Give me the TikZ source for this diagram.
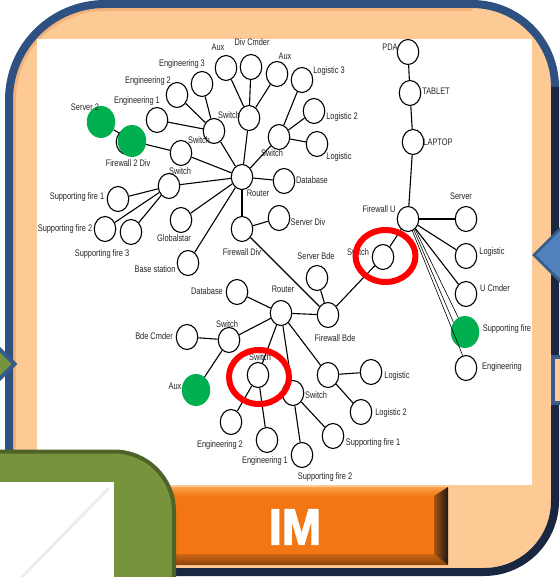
\documentclass[tikz,border=0pt]{standalone}
\usepackage{fontspec}
\newfontfamily\labfont[FakeStretch=0.78]{Liberation Sans}
\newfontfamily\imfont[FakeBold=2.5,FakeStretch=0.92]{Liberation Sans Bold}
\usetikzlibrary{shapes.geometric}

\definecolor{peach}{HTML}{FDCA96}
\definecolor{peachdark}{HTML}{F4B27A}
\definecolor{frameblue}{HTML}{2F5181}
\definecolor{framedark}{HTML}{1A2740}
\definecolor{olive}{HTML}{77933C}
\definecolor{olivedark}{HTML}{4F6228}
\definecolor{arrowblue}{HTML}{4F81BD}
\definecolor{arrowedge}{HTML}{385D8A}
\definecolor{hotgreen}{HTML}{00B050}
\definecolor{imorange}{HTML}{F27714}
\definecolor{imlight}{HTML}{F9A24C}
\definecolor{imbrown}{HTML}{8C430A}

\tikzset{
  dev/.style={ellipse, draw=black, line width=1.1pt, fill=white,
    minimum width=21.5pt, minimum height=25pt, inner sep=0pt},
  hot/.style={ellipse, fill=hotgreen, minimum width=28.5pt,
    minimum height=32pt, inner sep=0pt},
  lbl/.style={font=\labfont\fontsize{9.5}{10}\selectfont, text=black!85,
    inner sep=0pt, text height=7pt, text depth=2pt},
  link/.style={line width=1.1pt},
  fine link/.style={line width=0.6pt},
  redring/.style={draw=red, line width=6pt},
}

\begin{document}
\begin{tikzpicture}[x=1pt,y=-1pt]
\useasboundingbox (0,0) rectangle (559,577);
\fill[white] (0,0) rectangle (559,577);

% ---------- frame ----------
\fill[peach] (9,572) -- (9,100) arc[start angle=180,end angle=270,radius=96]
  -- (472,4) arc[start angle=270,end angle=360,radius=83]
  -- (555,501) arc[start angle=0,end angle=90,radius=71] -- cycle;
\draw[peachdark, line width=3] (14.5,450) -- (14.5,100)
  arc[start angle=180,end angle=270,radius=90.5] -- (472,9.5);
\draw[frameblue, line width=8] (9,577) -- (9,100)
  arc[start angle=180,end angle=270,radius=96] -- (472,4)
  arc[start angle=270,end angle=360,radius=83];
\draw[framedark, line width=8] (555,87) -- (555,501)
  arc[start angle=0,end angle=90,radius=71] -- (150,572);

% ---------- white panel ----------
\fill[white] (37,39) rectangle (532,485);

% ---------- devices ----------
\node[hot] (srv2) at (101,122) {};
\node[dev] (fw2under) at (127,142) {};
\node[hot] (fw2div) at (132,141) {};
\node[dev] (eng1) at (157,120) {};
\node[dev] (eng2) at (177,95) {};
\node[dev] (eng3) at (202,84) {};
\node[dev] (auxT) at (226,68) {};
\node[dev] (divc) at (251,67) {};
\node[dev] (auxR) at (277,74) {};
\node[dev] (swB) at (214,131) {};
\node[dev] (swC) at (249,118) {};
\node[dev] (swA) at (181,153) {};
\node[dev] (rt1) at (242,177) {};
\node[dev] (swD) at (279,137) {};
\node[dev] (log3) at (302,80) {};
\node[dev] (log2) at (314,111) {};
\node[dev] (log1) at (317,144) {};
\node[dev] (db1) at (284,181) {};
\node[dev] (swE) at (169,186) {};
\node[dev] (sf1) at (118,199) {};
\node[dev] (sf2) at (105,229) {};
\node[dev] (sf3) at (131,232) {};
\node[dev] (glob) at (181,220) {};
\node[dev] (base) at (188,263) {};
\node[dev] (fwdiv) at (242,229) {};
\node[dev] (srvdiv) at (279,218) {};
\node[dev] (fwbde) at (328,315) {};
\node[dev] (srvbde) at (317,278) {};
\node[dev] (rt2) at (281,313) {};
\node[dev] (swU) at (383,257) {};
\node[dev] (fwu) at (408,219) {};
\node[dev] (laptop) at (413,142) {};
\node[dev] (tablet) at (410,93) {};
\node[dev] (pda) at (408,52) {};
\node[dev] (srvU) at (466,219) {};
\node[dev] (logU) at (466,256) {};
\node[dev] (ucmd) at (466,294) {};
\node[hot] (supU) at (465,332) {};
\node[dev] (engU) at (466,368) {};
\node[dev] (db2) at (237,292) {};
\node[dev] (swF) at (229,340) {};
\node[dev] (bdec) at (187,337) {};
\node[hot] (auxG) at (196,390) {};
\node[dev] (swG) at (258,375) {};
\node[dev] (swH) at (293,393) {};
\node[dev] (nK) at (328,375) {};
\node[dev] (logL) at (371,372) {};
\node[dev] (log2L) at (361,412) {};
\node[dev] (sf1L) at (333,436) {};
\node[dev] (sf2L) at (302,455) {};
\node[dev] (eng2L) at (231,422) {};
\node[dev] (eng1L) at (267,440) {};

% ---------- links ----------
\draw[link] (srv2) -- (fw2div);
\draw[link] (fw2div) -- (swA);
\draw[link] (eng1) -- (swB);
\draw[link] (eng2) -- (swB);
\draw[link] (eng3) -- (swB);
\draw[link] (swB) -- (rt1);
\draw[link] (auxT) -- (swC);
\draw[link] (divc) -- (swC);
\draw[link] (auxR) -- (swC);
\draw[link] (swC) -- (rt1);
\draw[link] (swA) -- (rt1);
\draw[link] (swD) -- (rt1);
\draw[link] (swD) -- (log3);
\draw[link] (swD) -- (log2);
\draw[link] (swD) -- (log1);
\draw[link] (rt1) -- (db1);
\draw[link] (swE) -- (rt1);
\draw[link] (swE) -- (sf1);
\draw[link] (swE) -- (sf2);
\draw[link] (swE) -- (sf3);
\draw[link] (rt1) -- (glob);
\draw[link] (rt1) -- (base);
\draw[link] (rt1) -- (fwdiv);
\draw[link] (fwdiv) -- (srvdiv);
\draw[link] (fwdiv) -- (fwbde);
\draw[link] (srvbde) -- (fwbde);
\draw[link] (rt2) -- (fwbde);
\draw[link] (fwbde) -- (swU);
\draw[link] (swU) -- (fwu);
\draw[link] (fwu) -- (laptop);
\draw[link] (laptop) -- (tablet);
\draw[link] (tablet) -- (pda);
\draw[link] (fwu) -- (srvU);
\draw[link] (fwu) -- (logU);
\draw[link] (fwu) -- (ucmd);
\draw[fine link] (fwu.-62) -- (supU.140);
\draw[fine link] (fwu.-55) -- (supU.115);
\draw[fine link] (fwu.-70) -- (engU.105);
\draw[link] (db2) -- (rt2);
\draw[link] (swF) -- (rt2);
\draw[link] (swF) -- (bdec);
\draw[link] (swF) -- (auxG);
\draw[link] (rt2) -- (swG);
\draw[link] (rt2) -- (swH);
\draw[link] (rt2) -- (nK);
\draw[link] (nK) -- (logL);
\draw[link] (nK) -- (log2L);
\draw[link] (swG) -- (eng2L);
\draw[link] (swG) -- (eng1L);
\draw[link] (swH) -- (sf1L);
\draw[link] (swH) -- (sf2L);

% ---------- labels ----------
\node[lbl] (tAuxT) at (218,48) {Aux};
\node[lbl] (tDivc) at (252,43) {Div Cmder};
\node[lbl] (tAuxR) at (285,57) {Aux};
\node[lbl] (tEng3) at (182,64) {Engineering 3};
\node[lbl] (tEng2) at (148,81) {Engineering 2};
\node[lbl] (tEng1) at (137,101) {Engineering 1};
\node[lbl] (tSrv2) at (85,108) {Server 2};
\node[lbl] (tFw2) at (128,164) {Firewall 2 Div};
\node[lbl] (tSwC) at (229,116) {Switch};
\node[lbl] (tSwB) at (199,141) {Switch};
\node[lbl] (tSwE) at (180,172) {Switch};
\node[lbl] (tRt1) at (258,194) {Router};
\node[lbl] (tSwD) at (272,154) {Switch};
\node[lbl] (tLog3) at (329,71) {Logistic 3};
\node[lbl] (tLog2) at (342,117) {Logistic 2};
\node[lbl] (tLog1) at (339,157) {Logistic};
\node[lbl] (tDb1) at (312,181) {Database};
\node[lbl] (tSrvDiv) at (308,223) {Server Div};
\node[lbl] (tFwDiv) at (242,253) {Firewall Div};
\node[lbl] (tGlob) at (174,239) {Globalstar};
\node[lbl] (tBase) at (155,270) {Base station};
\node[lbl] (tSf1) at (77,197) {Supporting fire 1};
\node[lbl] (tSf2) at (65,229) {Supporting fire 2};
\node[lbl] (tSf3) at (102,254) {Supporting fire 3};
\node[lbl] (tDb2) at (207,292) {Database};
\node[lbl] (tBdec) at (154,337) {Bde Cmder};
\node[lbl] (tSwF) at (227,325) {Switch};
\node[lbl] (tRt2) at (283,290) {Router};
\node[lbl] (tSrvBde) at (316,257) {Server Bde};
\node[lbl] (tFwBde) at (335,339) {Firewall Bde};
\node[lbl] (tSwG) at (260,358) {Switch};
\node[lbl] (tAuxG) at (175,387) {Aux};
\node[lbl] (tSwH) at (316,396) {Switch};
\node[lbl] (tEng2L) at (220,445) {Engineering 2};
\node[lbl] (tEng1L) at (265,461) {Engineering 1};
\node[lbl] (tSf2L) at (325,477) {Supporting fire 2};
\node[lbl] (tSf1L) at (373,443) {Supporting fire 1};
\node[lbl] (tLogL) at (397,376) {Logistic};
\node[lbl] (tLog2L) at (391,413) {Logistic 2};
\node[lbl] (tSwU) at (358,253) {Switch};
\node[lbl] (tFwu) at (379,210) {Firewall U};
\node[lbl] (tSrvU) at (461,197) {Server};
\node[lbl] (tLogU) at (492,252) {Logistic};
\node[lbl] (tUcmd) at (495,289) {U Cmder};
\node[lbl] (tSupU) at (507,329) {Supporting fire};
\node[lbl] (tEngU) at (502,367) {Engineering};
\node[lbl] (tPda) at (390,48) {PDA};
\node[lbl] (tTablet) at (436,92) {TABLET};
\node[lbl] (tLaptop) at (438,143) {LAPTOP};

% ---------- highlight rings ----------
\draw[redring] (385.5,256) ellipse[x radius=30, y radius=26];
\draw[redring] (259,377) ellipse[x radius=30, y radius=27];

% ---------- side arrows and tab ----------
\draw[arrowedge, line width=2.5, fill=arrowblue, line join=miter]
  (534,255) -- (572,217) -- (572,293) -- cycle;
\draw[arrowedge, line width=4, fill=peach] (553,357) rectangle (578,403);

% ---------- IM bar ----------
\fill[imorange] (170,487) rectangle (448,565);
\shade[top color=imlight, bottom color=imorange]
  (170,487) -- (448,487) -- (434,496) -- (170,496) -- cycle;
\shade[top color=imorange!85!black, bottom color=imbrown]
  (170,554) -- (434,554) -- (448,565) -- (170,565) -- cycle;
\shade[left color=imorange!70!black, right color=black!90]
  (434,496) -- (448,487) -- (448,565) -- (434,554) -- cycle;
\node[font=\imfont\fontsize{51}{51}\selectfont, text=white, inner sep=0pt]
  (imtext) at (295,527) {IM};

% ---------- green panel ----------
\draw[olivedark, line width=4, fill=olive] (-5,451.5) -- (114,451.5)
  arc[start angle=270,end angle=360,radius=60] -- (174,582) -- (-5,582) -- cycle;
\fill[white] (-5,482) rectangle (114,582);
\draw[black!7, line width=3, line cap=round] (108,489) -- (22,577);

% ---------- left arrow ----------
\draw[arrowedge, line width=4, fill=olive, line join=miter]
  (14.5,364) -- (-24,326) -- (-24,402) -- cycle;
\end{tikzpicture}
\end{document}
